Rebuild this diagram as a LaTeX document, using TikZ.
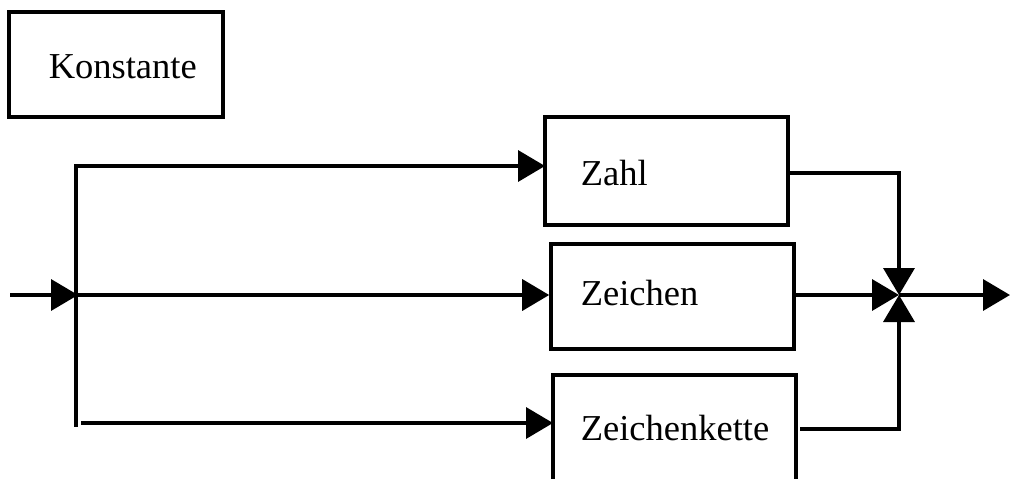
\documentclass[tikz,border=0pt]{standalone}
\usepackage{fontspec}
\setmainfont{Liberation Serif}
\usetikzlibrary{arrows.meta}
\begin{document}
\begin{tikzpicture}[x=1pt,y=-1pt,
  line width=3.6pt,
  box/.style={draw, rectangle, inner sep=0pt},
  lbl/.style={anchor=base west, inner sep=0pt, font=\fontsize{36.5}{40}\selectfont},
  arr/.style={-{Triangle[length=27pt,width=31pt]}},
  ]
\useasboundingbox (0,0) rectangle (1010,479);
% boxes
\node[box, minimum width=214pt, minimum height=105pt] (K) at (116,64.5) {};
\node[box, minimum width=243pt, minimum height=108pt] (Zahl) at (666.5,171) {};
\node[box, minimum width=243pt, minimum height=105pt] (Zei) at (672.5,296.5) {};
\node[box, minimum width=243pt, minimum height=110pt] (Zk) at (674.5,430) {};
% labels
\node[lbl] (tK) at (47,78) {Konstante};
\node[lbl] (tZahl) at (579,185) {Zahl};
\node[lbl] (tZei) at (579,305) {Zeichen};
\node[lbl] (tZk) at (579,440) {Zeichenkette};
% coordinates
\coordinate (in) at (10,295);
\coordinate (split) at (78,295);
\coordinate (vtop) at (76,166);
\coordinate (vbot) at (76,425);
\coordinate (zkstart) at (81,423);
\coordinate (j) at (899,295);
\coordinate (out) at (1010,295);
\coordinate (zahlin) at (545,166);
\coordinate (zkin) at (553,423);
\coordinate (zahlout) at (788,173);
\coordinate (zkout) at (800,429);
% connectors
\draw[arr] (in) -- (split);
\draw[arr] (split) -- (Zei.west |- split);
\draw[line cap=rect] (vbot) -- (vtop);
\draw[arr] (vtop) -- (zahlin);
\draw[arr] (zkstart) -- (zkin);
\draw[arr] (zahlout) -| (j);
\draw[arr] (Zei.east |- j) -- (j);
\draw[arr] (zkout) -| (j);
\draw[arr] (j) -- (out);
\end{tikzpicture}
\end{document}
